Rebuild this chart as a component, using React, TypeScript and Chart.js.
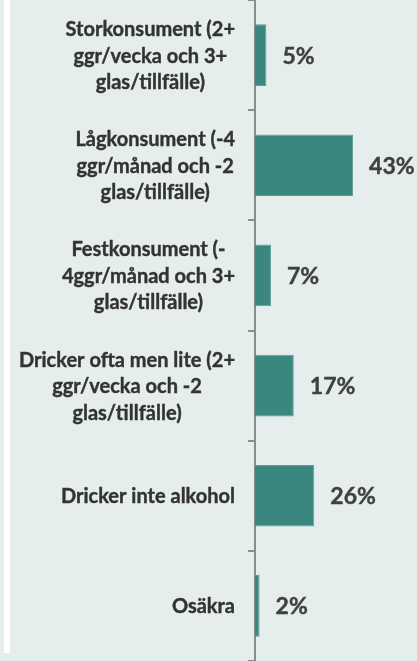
import React, { useEffect, useRef } from "react";
import { Chart, registerables } from "chart.js";

Chart.register(...registerables);

const categories: string[][] = [
  ["Storkonsument (2+", "ggr/vecka och 3+", "glas/tillfälle)"],
  ["Lågkonsument (-4", "ggr/månad och -2", "glas/tillfälle)"],
  ["Festkonsument (-", "4ggr/månad och 3+", "glas/tillfälle)"],
  ["Dricker ofta men lite (2+", "ggr/vecka och -2", "glas/tillfälle)"],
  ["Dricker inte alkohol"],
  ["Osäkra"],
];
const values: number[] = [5, 43, 7, 17, 26, 2];
const valueLabels: string[] = values.map((v) => v + "%");

const FONT = "Lato";

export default function App() {
  const ref = useRef<HTMLCanvasElement | null>(null);

  useEffect(() => {
    if (!ref.current) return;
    const catLabelPlugin = {
      id: "catLabels",
      afterDraw(chart: any) {
        const ctx = chart.ctx;
        const y = chart.scales.y;
        ctx.save();
        ctx.font = `bold 20px ${FONT}`;
        ctx.fillStyle = "#333333";
        ctx.textAlign = "center";
        ctx.textBaseline = "middle";
        const lh = 26.5;
        categories.forEach((lines, i) => {
          const cy = y.getPixelForTick(i) + 1;
          const maxW = Math.max(...lines.map((l) => ctx.measureText(l).width));
          const cx = y.right - 20 - maxW / 2;
          const top = cy - ((lines.length - 1) * lh) / 2;
          lines.forEach((l, j) => {
            ctx.fillText(l, cx, top + j * lh);
            ctx.strokeStyle = "#333333";
            ctx.lineWidth = 0.4;
            ctx.strokeText(l, cx, top + j * lh);
          });
        });
        ctx.restore();
      },
    };
    const valLabelPlugin = {
      id: "valLabels",
      afterDatasetsDraw(chart: any) {
        const ctx = chart.ctx;
        const meta = chart.getDatasetMeta(0);
        ctx.save();
        ctx.font = `bold 23px ${FONT}`;
        ctx.fillStyle = "#404040";
        ctx.strokeStyle = "#404040";
        ctx.lineWidth = 0.4;
        ctx.textAlign = "left";
        ctx.textBaseline = "middle";
        meta.data.forEach((bar: any, i: number) => {
          ctx.fillText(valueLabels[i], bar.x + 16, bar.y + 1);
          ctx.strokeText(valueLabels[i], bar.x + 16, bar.y + 1);
        });
        ctx.restore();
      },
    };
    const chart = new Chart(ref.current, {
      type: "bar",
      data: {
        labels: categories.map((c) => c.join(" ")),
        datasets: [
          {
            data: values,
            backgroundColor: "#3A877F",
            borderColor: "#5C9E97",
            borderWidth: 1,
            barPercentage: 0.56,
            categoryPercentage: 1,
          },
        ],
      },
      options: {
        indexAxis: "y",
        animation: false,
        responsive: false,
        maintainAspectRatio: false,
        layout: { padding: 0 },
        plugins: { legend: { display: false }, tooltip: { enabled: false } },
        scales: {
          x: { display: false, min: 0, max: 71 },
          y: {
            position: "left",
            ticks: { display: false },
            grid: {
              display: true,
              drawOnChartArea: false,
              drawTicks: true,
              tickLength: 7,
              color: "#8C8C8C",
              lineWidth: 2,
              offset: true,
            },
            border: { display: true, color: "#8C8C8C", width: 2 },
            afterFit: (scale: any) => {
              scale.width = 255;
            },
          },
        },
      },
      plugins: [catLabelPlugin, valLabelPlugin],
    });
    return () => chart.destroy();
  }, []);

  return (
    <div
      style={{
        position: "fixed",
        left: 0,
        top: 0,
        width: 417,
        height: 661,
        background: "#E6EEED",
      }}
    >
      <div
        style={{
          position: "absolute",
          left: 4,
          top: 0,
          width: 6,
          height: 653,
          background: "#FFFFFF",
        }}
      />
      <canvas
        ref={ref}
        width={417}
        height={661}
        style={{ position: "absolute", left: 0, top: 0, width: 417, height: 661 }}
      />
    </div>
  );
}
